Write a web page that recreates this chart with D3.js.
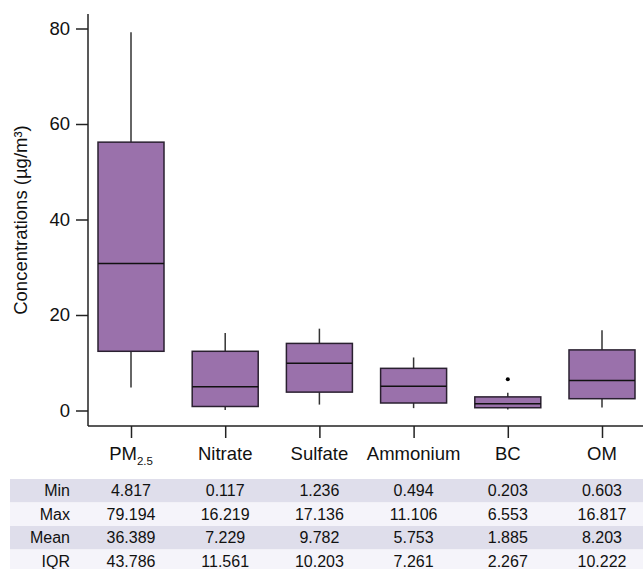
<!DOCTYPE html>
<html lang="en">
<head>
<meta charset="utf-8">
<style type="text/css">
    body { margin: 0; background: #fff; }
    svg { font-family: "Liberation Sans", Arial, Helvetica, sans-serif; }
    .axis path, .axis line { stroke: #222; stroke-width: 1.5px; }
    .axis text { fill: #111; }
</style>
</head>
<body>
<svg width="643" height="569"></svg>

<script src="https://d3js.org/d3.v7.min.js" type="text/javascript"></script>

<script type="text/javascript">
    var categories = ["PM2.5", "Nitrate", "Sulfate", "Ammonium", "BC", "OM"];
    var whiskerLow = [4.817, 0.117, 1.236, 0.494, 0.203, 0.603];
    var q1 = [12.4, 0.84, 3.85, 1.57, 0.58, 2.47];
    var median = [30.8, 5.0, 9.9, 5.1, 1.4, 6.3];
    var q3 = [56.2, 12.4, 14.05, 8.83, 2.85, 12.69];
    var whiskerHigh = [79.194, 16.219, 17.136, 11.106, 3.7, 16.817];
    var outliers = [[], [], [], [], [6.553], []];

    var yTicks = [0, 20, 40, 60, 80];

    var tableRows = ["Min", "Max", "Mean", "IQR"];
    var tableMin = ["4.817", "0.117", "1.236", "0.494", "0.203", "0.603"];
    var tableMax = ["79.194", "16.219", "17.136", "11.106", "6.553", "16.817"];
    var tableMean = ["36.389", "7.229", "9.782", "5.753", "1.885", "8.203"];
    var tableIQR = ["43.786", "11.561", "10.203", "7.261", "2.267", "10.222"];
    var tableValues = [tableMin, tableMax, tableMean, tableIQR];

    var svg = d3.select("svg"),
        width = +svg.attr("width"),
        axisX = 88,
        axisY = 426,
        boxWidth = 66;

    var x = d3.scalePoint().domain(categories).range([131, 602]);
    var y = d3.scaleLinear().domain([0, 80]).range([410.5, 28.5]);

    var boxes = categories.map(function (c, i) {
        return {name: c, lo: whiskerLow[i], q1: q1[i], med: median[i], q3: q3[i], hi: whiskerHigh[i], out: outliers[i]};
    });

    // y axis
    var yAxis = svg.append("g")
        .attr("class", "axis")
        .attr("transform", "translate(" + axisX + ",0)")
        .call(d3.axisLeft(y).tickValues(yTicks).tickSize(12).tickPadding(6));
    yAxis.select(".domain").remove();
    yAxis.selectAll("text").style("font-size", "18.5px");
    yAxis.append("line")
        .attr("x1", 0).attr("x2", 0)
        .attr("y1", 14).attr("y2", axisY);

    // x axis
    var xAxis = svg.append("g")
        .attr("class", "axis")
        .attr("transform", "translate(0," + axisY + ")")
        .call(d3.axisBottom(x).tickSize(12).tickPadding(8).tickFormat(""));
    xAxis.select(".domain").remove();
    xAxis.append("line")
        .attr("x1", axisX).attr("x2", width)
        .attr("y1", 0).attr("y2", 0);

    var xLabels = svg.append("g")
        .selectAll("text")
        .data(categories)
        .enter()
        .append("text")
        .attr("x", function (d) { return x(d); })
        .attr("y", 460)
        .attr("text-anchor", "middle")
        .style("font-size", "18.5px")
        .style("fill", "#111");
    xLabels.each(function (d) {
        var t = d3.select(this);
        if (d === "PM2.5") {
            t.append("tspan").text("PM");
            t.append("tspan").attr("dy", 5).style("font-size", "11.5px").text("2.5");
        } else {
            t.text(d);
        }
    });

    svg.append("text")
        .attr("transform", "translate(27," + ((14 + axisY) / 2) + ") rotate(-90)")
        .attr("text-anchor", "middle")
        .style("font-size", "18.5px")
        .style("fill", "#111")
        .text("Concentrations (\u00b5g/m\u00b3)");

    // boxes
    var box = svg.append("g").selectAll("g")
        .data(boxes)
        .enter()
        .append("g");

    box.append("line")
        .attr("x1", function (d) { return x(d.name); })
        .attr("x2", function (d) { return x(d.name); })
        .attr("y1", function (d) { return y(d.hi); })
        .attr("y2", function (d) { return y(d.q3); })
        .style("stroke", "#333").style("stroke-width", 1.5);

    box.append("line")
        .attr("x1", function (d) { return x(d.name); })
        .attr("x2", function (d) { return x(d.name); })
        .attr("y1", function (d) { return y(d.q1); })
        .attr("y2", function (d) { return y(d.lo); })
        .style("stroke", "#333").style("stroke-width", 1.5);

    box.append("rect")
        .attr("x", function (d) { return x(d.name) - boxWidth / 2; })
        .attr("width", boxWidth)
        .attr("y", function (d) { return y(d.q3); })
        .attr("height", function (d) { return y(d.q1) - y(d.q3); })
        .style("fill", "#9a71ab")
        .style("stroke", "#2a2030")
        .style("stroke-width", 1.5);

    box.append("line")
        .attr("x1", function (d) { return x(d.name) - boxWidth / 2; })
        .attr("x2", function (d) { return x(d.name) + boxWidth / 2; })
        .attr("y1", function (d) { return y(d.med); })
        .attr("y2", function (d) { return y(d.med); })
        .style("stroke", "#111").style("stroke-width", 1.5);

    box.selectAll("circle")
        .data(function (d) { return d.out.map(function (v) { return {name: d.name, v: v}; }); })
        .enter()
        .append("circle")
        .attr("cx", function (d) { return x(d.name); })
        .attr("cy", function (d) { return y(d.v); })
        .attr("r", 2)
        .style("fill", "#000");

    // table
    var rowTop = 479, rowH = 23.5;
    var table = svg.append("g");
    table.selectAll("rect")
        .data(tableRows)
        .enter()
        .append("rect")
        .attr("x", 10)
        .attr("width", width - 10)
        .attr("y", function (d, i) { return rowTop + i * rowH; })
        .attr("height", rowH)
        .style("fill", function (d, i) { return i % 2 === 0 ? "#dfdeeb" : "#f5f4fa"; });

    table.selectAll(".rowlabel")
        .data(tableRows)
        .enter()
        .append("text")
        .attr("class", "rowlabel")
        .attr("x", 70)
        .attr("y", function (d, i) { return rowTop + i * rowH + rowH / 2; })
        .attr("dy", "0.35em")
        .attr("text-anchor", "end")
        .style("font-size", "16px")
        .style("fill", "#111")
        .text(function (d) { return d; });

    tableValues.forEach(function (vals, r) {
        table.selectAll(".cell" + r)
            .data(vals)
            .enter()
            .append("text")
            .attr("class", "cell" + r)
            .attr("x", function (d, i) { return x(categories[i]); })
            .attr("y", rowTop + r * rowH + rowH / 2)
            .attr("dy", "0.35em")
            .attr("text-anchor", "middle")
            .style("font-size", "16px")
            .style("fill", "#111")
            .text(function (d) { return d; });
    });
</script>

</body>
</html>
